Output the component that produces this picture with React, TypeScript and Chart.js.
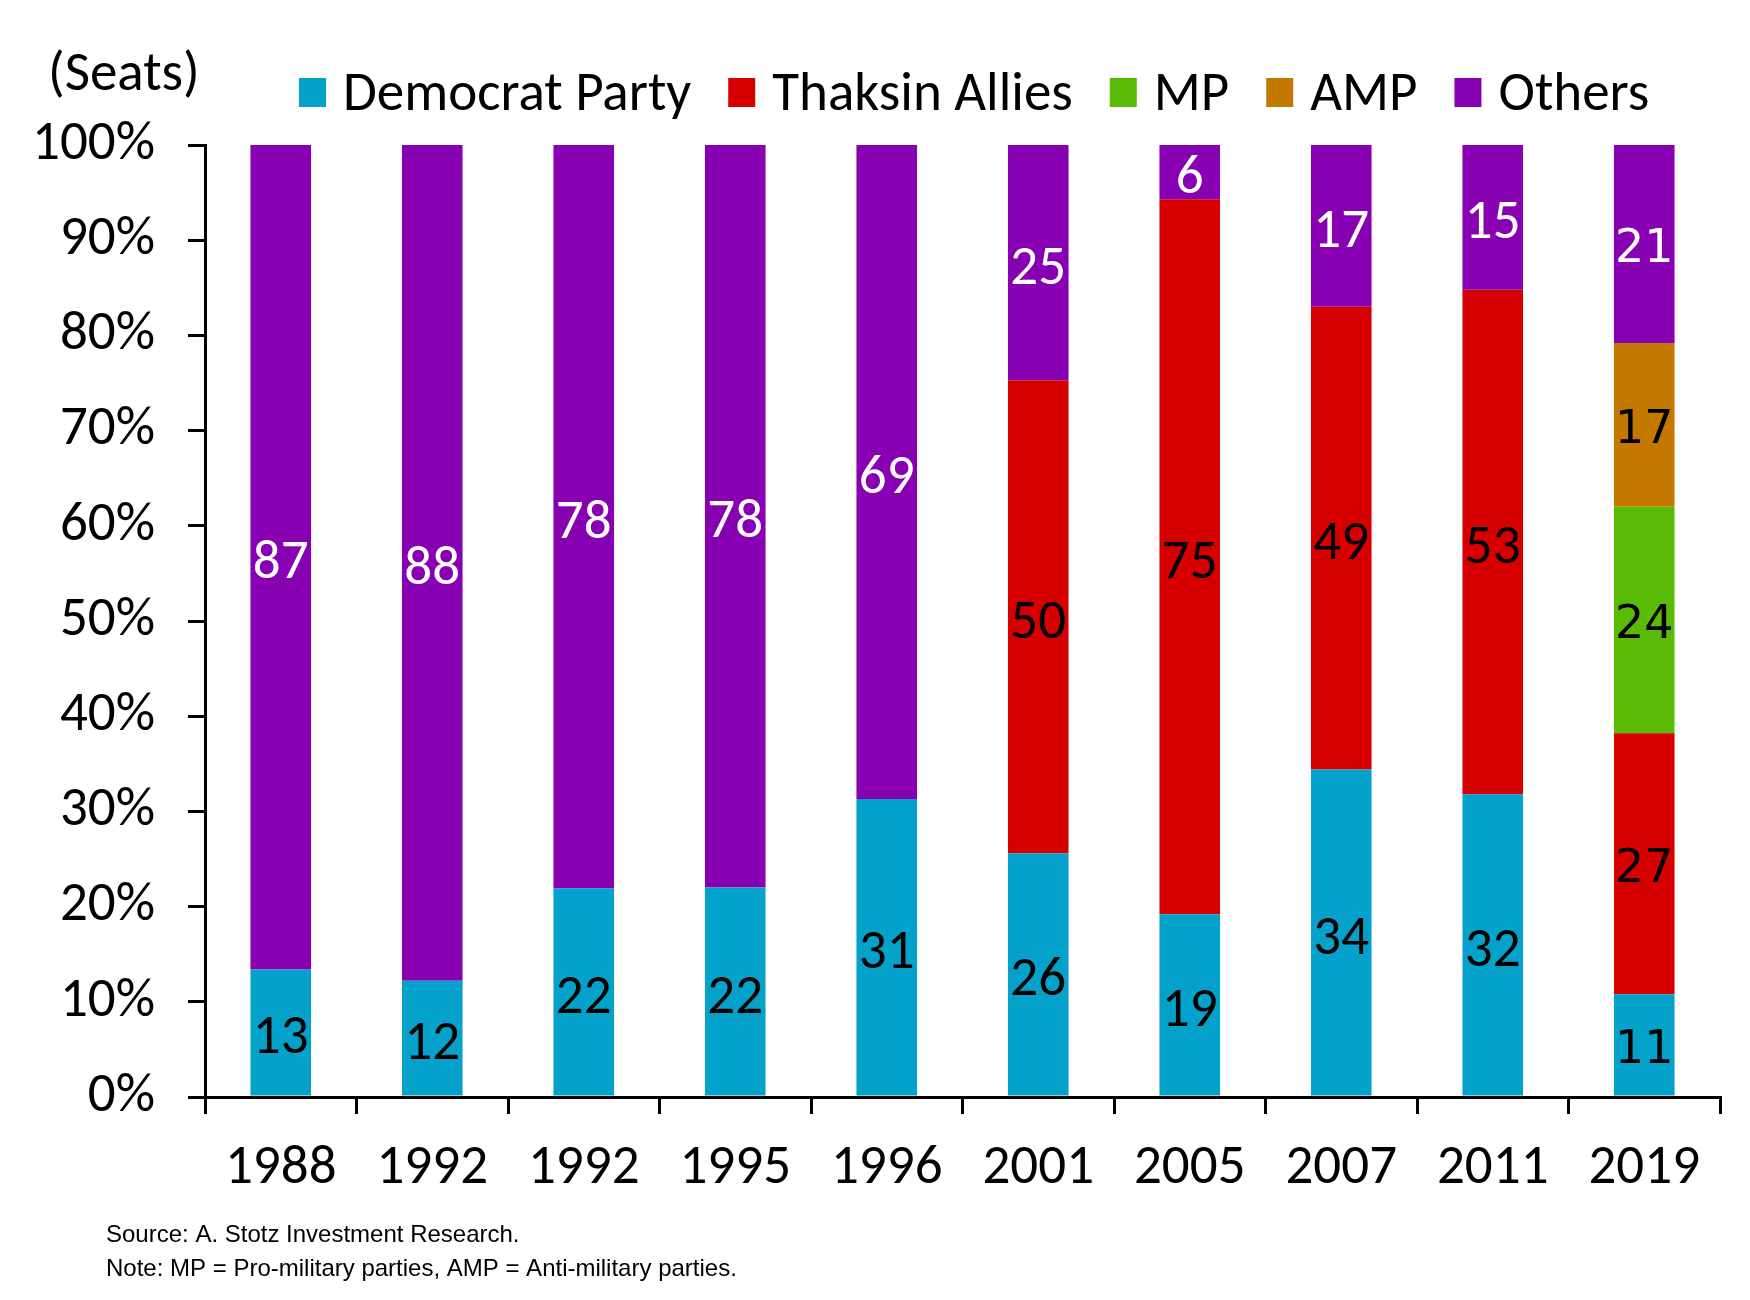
import React, { useEffect, useRef } from 'react';
import { Chart, registerables } from 'chart.js';

Chart.register(...registerables);

const categories = ['1988', '1992', '1992', '1995', '1996', '2001', '2005', '2007', '2011', '2019'];
const democrat = [13.4, 12.2, 21.9, 22.0, 31.3, 25.6, 19.2, 34.4, 31.8, 10.8];
const thaksin = [null, null, null, null, null, 49.7, 75.1, 48.6, 53.0, 27.4];
const mp = [null, null, null, null, null, null, null, null, null, 23.8];
const amp = [null, null, null, null, null, null, null, null, null, 17.2];
const others = [86.6, 87.8, 78.1, 78.0, 68.7, 24.7, 5.7, 17.0, 15.2, 20.8];

const seriesNames = ['Democrat Party', 'Thaksin Allies', 'MP', 'AMP', 'Others'];
const seriesColors = ['#04A2CA', '#D60000', '#59BB05', '#C47800', '#8700B2'];
const labelColors = ['#000000', '#000000', '#000000', '#000000', '#FFFFFF'];

const unitLabel = '(Seats)';
const sourceText = 'Source: A. Stotz Investment Research.';
const noteText = 'Note: MP = Pro-military parties, AMP = Anti-military parties.';

const MAIN_FONT = 'Carlito, Calibri, Lato, sans-serif';
const FS = 55;

const overlayPlugin = {
  id: 'overlay',
  afterDatasetsDraw(chart: any) {
    const ctx = chart.ctx;
    ctx.save();
    chart.data.datasets.forEach((ds: any, di: number) => {
      const meta = chart.getDatasetMeta(di);
      meta.data.forEach((el: any, i: number) => {
        const v = ds.data[i];
        if (v == null) return;
        const p = el.getProps(['x', 'y', 'base'], true);
        const last = i === categories.length - 1;
        ctx.font = last ? '46px "DejaVu Sans"' : `${FS}px ${MAIN_FONT}`;
        ctx.fillStyle = labelColors[di];
        ctx.textAlign = 'center';
        ctx.textBaseline = 'alphabetic';
        const cy = (p.y + p.base) / 2;
        ctx.fillText(String(Math.round(v)), p.x, cy + (last ? 17 : 20) + 1);
      });
    });
    ctx.restore();
  },
  afterDraw(chart: any) {
    const ctx = chart.ctx;
    ctx.save();
    ctx.font = `${FS}px ${MAIN_FONT}`;
    ctx.fillStyle = '#000';
    ctx.textAlign = 'left';
    ctx.textBaseline = 'alphabetic';
    ctx.fillText(unitLabel, 48, 90);
    let x = 299;
    const boxW = 27;
    const boxH = 29;
    chart.data.datasets.forEach((ds: any) => {
      ctx.fillStyle = ds.backgroundColor;
      ctx.fillRect(x, 78, boxW, boxH);
      x += boxW + 17;
      ctx.fillStyle = '#000';
      ctx.font = `${FS}px ${MAIN_FONT}`;
      ctx.fillText(ds.label, x, 110);
      x += ctx.measureText(ds.label).width + 37;
    });
    ctx.font = '24px "Liberation Sans", Arial, sans-serif';
    ctx.fillStyle = '#000';
    ctx.fillText(sourceText, 106, 1242);
    ctx.fillText(noteText, 106, 1276);
    ctx.restore();
  },
};

export default function App() {
  const ref = useRef<HTMLCanvasElement | null>(null);

  useEffect(() => {
    document.body.style.margin = '0';
    const canvas = ref.current;
    if (!canvas) return;
    const seriesData = [democrat, thaksin, mp, amp, others];
    const chart = new Chart(canvas, {
      type: 'bar',
      data: {
        labels: categories,
        datasets: seriesNames.map((name, i) => ({
          label: name,
          data: seriesData[i],
          backgroundColor: seriesColors[i],
          borderWidth: 0,
          categoryPercentage: 1,
          barPercentage: 0.4,
        })),
      },
      options: {
        responsive: false,
        animation: false,
        devicePixelRatio: 1,
        layout: { padding: { top: 145, right: 30, bottom: 0, left: 0 } },
        plugins: {
          legend: { display: false },
          title: { display: false },
          tooltip: { enabled: false },
        },
        scales: {
          x: {
            stacked: true,
            offset: true,
            grid: {
              offset: true,
              drawOnChartArea: false,
              drawTicks: true,
              tickLength: 17,
              color: '#000',
              lineWidth: 3,
            },
            border: { display: true, color: '#000', width: 3 },
            ticks: {
              color: '#000',
              font: { family: MAIN_FONT, size: FS },
              padding: 22,
              maxRotation: 0,
              autoSkip: false,
            },
            afterFit: (scale: any) => {
              scale.height = 203;
            },
          },
          y: {
            stacked: true,
            min: 0,
            max: 100,
            grid: {
              drawOnChartArea: false,
              drawTicks: true,
              tickLength: 17,
              color: '#000',
              lineWidth: 3,
            },
            border: { display: true, color: '#000', width: 3 },
            ticks: {
              stepSize: 10,
              color: '#000',
              font: { family: MAIN_FONT, size: FS },
              padding: 33,
              callback: (v: any) => `${v}%`,
            },
            afterFit: (scale: any) => {
              scale.width = 205;
            },
          },
        },
      },
      plugins: [overlayPlugin],
    });
    return () => chart.destroy();
  }, []);

  return (
    <div style={{ width: 1750, height: 1300, background: '#fff' }}>
      <canvas ref={ref} width={1750} height={1300} style={{ display: 'block' }} />
    </div>
  );
}
